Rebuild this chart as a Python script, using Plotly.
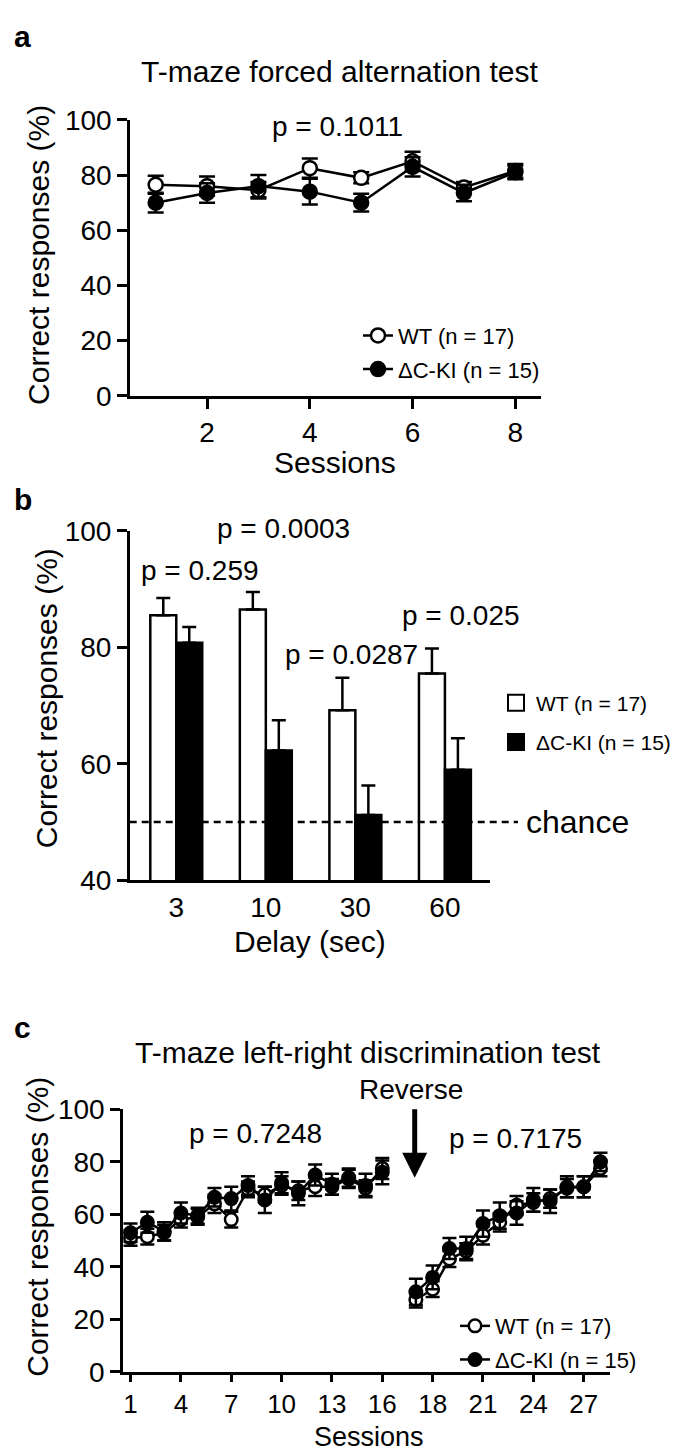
import plotly.graph_objects as go

W, H = 685, 1454
FONT = "Liberation Sans, Arial, Helvetica, sans-serif"

# ---------------- Panel a data ----------------
sessions_a = [1, 2, 3, 4, 5, 6, 7, 8]
wt_a = [76.5, 76.0, 74.5, 82.5, 79.0, 85.0, 75.5, 81.5]
wt_a_sem = [3.3, 3.5, 3.0, 3.5, 2.0, 3.5, 2.0, 2.5]
ki_a = [70.0, 73.5, 76.0, 74.0, 70.0, 83.0, 73.5, 81.0]
ki_a_sem = [3.6, 3.5, 4.0, 4.7, 3.2, 3.5, 3.0, 2.5]
a_xticks = [2, 4, 6, 8]

# ---------------- Panel b data ----------------
delays = ["3", "10", "30", "60"]
wt_b = [85.5, 86.5, 69.2, 75.5]
wt_b_sem = [3.0, 3.0, 5.6, 4.3]
ki_b = [80.8, 62.3, 51.2, 59.0]
ki_b_sem = [2.7, 5.2, 5.1, 5.4]
chance_level = 50
b_pvals = ["p = 0.259", "p = 0.0003", "p = 0.0287", "p = 0.025"]

# ---------------- Panel c data ----------------
sessions_c1 = list(range(1, 17))
wt_c1 = [51, 51.5, 53, 58, 59, 64, 58, 69.5, 67.5, 71, 69, 70.5, 70.5, 73.5, 70, 77.5]
wt_c1_sem = [3, 3, 3, 3, 3, 3.5, 3, 3, 3, 3.5, 3.5, 3.5, 3, 3.5, 3, 4]
ki_c1 = [53, 57, 53.5, 60.5, 59.5, 66.5, 66, 71, 65.5, 72, 68, 75, 71.5, 74, 71, 76]
ki_c1_sem = [3.5, 4, 3.5, 4, 3, 3.5, 4.5, 3.5, 5, 4, 4.5, 4, 4, 3.5, 4.5, 4.5]
sessions_c2 = list(range(17, 29))
wt_c2 = [27.5, 31.5, 43, 46, 52, 57, 63.5, 64.5, 66, 70, 70.5, 77.5]
wt_c2_sem = [3, 3, 3, 3, 3.5, 3.5, 3.5, 3.5, 3.5, 3.5, 4, 3]
ki_c2 = [30.5, 36, 47, 47, 56.5, 59.5, 60.5, 65.5, 65, 70.5, 70.5, 80]
ki_c2_sem = [5, 4.5, 4, 4.5, 5, 5, 4.5, 4.5, 4.5, 4, 4, 3.5]
c_tick_sessions = [1, 4, 7, 10, 13, 16, 18, 21, 24, 27]
REVERSE_AFTER = 16  # reversal: one blank slot on the axis after session 16


def cpos(s):
    return s if s <= REVERSE_AFTER else s + 1


fig = go.Figure()

LW = 2.5


def err(vals, width):
    return dict(type="data", array=vals, visible=True, color="black",
                thickness=LW, width=width)


# ---- panel a traces ----
fig.add_trace(go.Scatter(
    x=sessions_a, y=wt_a, mode="lines+markers", name="WT (n = 17)",
    legendgroup="wta",
    line=dict(color="black", width=LW),
    marker=dict(symbol="circle", size=14, color="white",
                line=dict(color="black", width=LW)),
    error_y=err(wt_a_sem, 8), xaxis="x", yaxis="y", legend="legend",
    cliponaxis=False))
fig.add_trace(go.Scatter(
    x=sessions_a, y=ki_a, mode="lines+markers", name="\u0394C-KI (n = 15)",
    legendgroup="kia",
    line=dict(color="black", width=LW),
    marker=dict(symbol="circle", size=14, color="black",
                line=dict(color="black", width=LW)),
    error_y=err(ki_a_sem, 8), xaxis="x", yaxis="y", legend="legend",
    cliponaxis=False))

# ---- panel b traces ----
fig.add_trace(go.Bar(
    x=delays, y=wt_b, name="WT (n = 17)", showlegend=False,
    marker=dict(color="white", line=dict(color="black", width=LW)),
    error_y=dict(type="data", symmetric=False, array=wt_b_sem,
                 arrayminus=[0] * len(wt_b_sem), color="black",
                 thickness=LW, width=7),
    xaxis="x2", yaxis="y2", offsetgroup="wt"))
fig.add_trace(go.Bar(
    x=delays, y=ki_b, name="\u0394C-KI (n = 15)", showlegend=False,
    marker=dict(color="black", line=dict(color="black", width=LW)),
    error_y=dict(type="data", symmetric=False, array=ki_b_sem,
                 arrayminus=[0] * len(ki_b_sem), color="black",
                 thickness=LW, width=7),
    xaxis="x2", yaxis="y2", offsetgroup="ki"))
# legend-only entries (large squares)
fig.add_trace(go.Scatter(
    x=[None], y=[None], mode="markers", name="WT (n = 17)",
    legendgroup="wtb",
    marker=dict(symbol="square", size=16, color="white",
                line=dict(color="black", width=2)),
    xaxis="x2", yaxis="y2", legend="legend2"))
fig.add_trace(go.Scatter(
    x=[None], y=[None], mode="markers", name="\u0394C-KI (n = 15)",
    legendgroup="kib",
    marker=dict(symbol="square", size=16, color="black",
                line=dict(color="black", width=2)),
    xaxis="x2", yaxis="y2", legend="legend2"))

# ---- panel c traces ----
for sess, vals, sems, show in [(sessions_c1, wt_c1, wt_c1_sem, True),
                               (sessions_c2, wt_c2, wt_c2_sem, False)]:
    fig.add_trace(go.Scatter(
        x=[cpos(s) for s in sess], y=vals, mode="lines+markers",
        name="WT (n = 17)", showlegend=show, legendgroup="wtc",
        line=dict(color="black", width=LW),
        marker=dict(symbol="circle", size=12.5, color="white",
                    line=dict(color="black", width=LW)),
        error_y=err(sems, 7), xaxis="x3", yaxis="y3", legend="legend3",
        cliponaxis=False))
for sess, vals, sems, show in [(sessions_c1, ki_c1, ki_c1_sem, True),
                               (sessions_c2, ki_c2, ki_c2_sem, False)]:
    fig.add_trace(go.Scatter(
        x=[cpos(s) for s in sess], y=vals, mode="lines+markers",
        name="\u0394C-KI (n = 15)", showlegend=show, legendgroup="kic",
        line=dict(color="black", width=LW),
        marker=dict(symbol="circle", size=12.5, color="black",
                    line=dict(color="black", width=LW)),
        error_y=err(sems, 7), xaxis="x3", yaxis="y3", legend="legend3",
        cliponaxis=False))


def px_x(p):
    return p / W


def px_y(p):
    return 1 - p / H


def axis_common(size=28):
    return dict(showline=True, linewidth=LW, linecolor="black",
                showgrid=False, zeroline=False, ticks="outside",
                tickwidth=LW, tickcolor="black",
                tickfont=dict(family=FONT, size=size, color="black"))


fig.update_layout(
    width=W, height=H, autosize=False,
    margin=dict(l=0, r=0, t=0, b=0),
    paper_bgcolor="white", plot_bgcolor="white",
    font=dict(family=FONT, color="black"),
    bargap=0.42, bargroupgap=0, barmode="group",
    xaxis=dict(domain=[px_x(122), px_x(533)], range=[0.5, 8.5],
               tickvals=a_xticks, ticklen=10, anchor="y", **axis_common()),
    yaxis=dict(domain=[px_y(381), px_y(99)], range=[0, 100], dtick=20,
               ticklen=10, anchor="x", **axis_common()),
    xaxis2=dict(domain=[px_x(121.7), px_x(481.7)], type="category",
                range=[-0.52, 3.5], anchor="y2",
                **{**axis_common(), "ticks": ""}),
    yaxis2=dict(domain=[px_y(876), px_y(519)], range=[40, 100],
                tickvals=[40, 60, 80, 100], ticklen=10, anchor="x2",
                **axis_common()),
    xaxis3=dict(domain=[px_x(115), px_x(601.7)], range=[0.55, 29.55],
                tickvals=[cpos(s) for s in c_tick_sessions],
                ticktext=[str(s) for s in c_tick_sessions],
                ticklen=7, anchor="y3", **axis_common(26)),
    yaxis3=dict(domain=[px_y(1378.3), px_y(1110)], range=[0, 100], dtick=20,
                ticklen=10, anchor="x3", **axis_common()),
    legend=dict(x=px_x(350), y=px_y(298), xanchor="left", yanchor="top",
                bgcolor="rgba(0,0,0,0)", font=dict(family=FONT, size=22),
                tracegroupgap=2),
    legend2=dict(x=px_x(488), y=px_y(674), xanchor="left", yanchor="top",
                 bgcolor="rgba(0,0,0,0)", font=dict(family=FONT, size=21),
                 tracegroupgap=9),
    legend3=dict(x=px_x(447), y=px_y(1310), xanchor="left", yanchor="top",
                 bgcolor="rgba(0,0,0,0)", font=dict(family=FONT, size=22),
                 tracegroupgap=2),
)

fig.add_shape(type="line", xref="x2 domain", yref="y2",
              x0=0, x1=(510 - 121.7) / (481.7 - 121.7),
              y0=chance_level, y1=chance_level,
              line=dict(color="black", width=LW, dash="7px,5px"),
              layer="above")


def ann(text, px, py, size, xanchor="center", yanchor="middle", **kw):
    return dict(text=text, x=px / W, y=1 - py / H, xref="paper", yref="paper",
                showarrow=False, xanchor=xanchor, yanchor=yanchor,
                font=dict(family=FONT, size=size, color="black"), **kw)


annotations = [
    ann("<b>a</b>", 4, 14, 30, xanchor="left"),
    ann("T-maze forced alternation test", 332, 50, 30),
    ann("p = 0.1011", 329, 106, 28),
    ann("Correct responses (%)", 31, 237, 30, textangle=-90),
    ann("Sessions", 327, 449, 30),

    ann("<b>b</b>", 4, 487, 30, xanchor="left"),
    ann(b_pvals[0], 192, 559, 28),
    ann(b_pvals[1], 275, 517, 28),
    ann(b_pvals[2], 343, 645, 28),
    ann(b_pvals[3], 453, 605, 28),
    ann("chance", 516, 816, 32, xanchor="left"),
    ann("Correct responses (%)", 38, 690, 30, textangle=-90),
    ann("Delay (sec)", 302, 939, 30),

    ann("<b>c</b>", 4, 1026, 30, xanchor="left"),
    ann("T-maze left-right discrimination test", 360, 1052, 30),
    ann("Reverse", 403, 1090, 28),
    ann("p = 0.7248", 247, 1135, 28),
    ann("p = 0.7175", 507, 1140, 28),
    ann("Correct responses (%)", 30, 1230, 30, textangle=-90),
    ann("Sessions", 361, 1462, 27, yanchor="bottom"),
    dict(text="", x=406.7 / W, y=1 - 1180 / H, xref="paper", yref="paper",
         ax=0, ay=-70, showarrow=True, arrowhead=2, arrowsize=1,
         arrowwidth=5, arrowcolor="black", standoff=0),
]
fig.update_layout(annotations=annotations)

fig.write_html("out.html")
